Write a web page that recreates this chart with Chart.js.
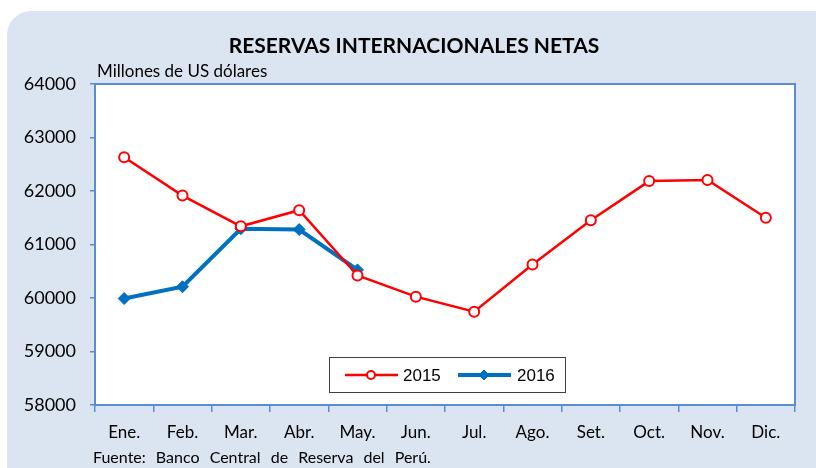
<!DOCTYPE html>
<html>
<head>
<meta charset="utf-8">
<script src="https://cdn.jsdelivr.net/npm/chart.js@4"></script>
<style>
  html, body { margin: 0; padding: 0; background: #ffffff; }
  #wrap { width: 816px; height: 468px; }
</style>
</head>
<body>
<div id="wrap"><canvas id="rinChart" width="816" height="468"></canvas></div>
<script>
const months = ["Ene.", "Feb.", "Mar.", "Abr.", "May.", "Jun.", "Jul.", "Ago.", "Set.", "Oct.", "Nov.", "Dic."];
const rin2015 = [62630, 61915, 61340, 61640, 60420, 60025, 59745, 60625, 61455, 62185, 62205, 61500];
const rin2016 = [59990, 60210, 61295, 61280, 60525];
const yTicks = [58000, 59000, 60000, 61000, 62000, 63000, 64000];

const AXIS_BLUE = "#5b8bd3";
const RED = "#ff0000";
const BLUE = "#0070c0";
const FONT = "Lato, 'Open Sans', sans-serif";

// card background, plot frame, titles, source note and the boxed legend
const decor = {
    id: "decor",
    beforeDraw(chart) {
        const ctx = chart.ctx;
        const a = chart.chartArea;
        ctx.save();
        ctx.fillStyle = "#dbe5f1";
        ctx.beginPath();
        ctx.roundRect(7, 11, 840, 480, 24);
        ctx.fill();
        ctx.fillStyle = "#ffffff";
        ctx.fillRect(a.left, a.top, a.right - a.left, a.bottom - a.top);
        ctx.restore();
    },
    afterDraw(chart) {
        const ctx = chart.ctx;
        const a = chart.chartArea;
        ctx.save();
        ctx.strokeStyle = AXIS_BLUE;
        ctx.lineWidth = 2;
        ctx.strokeRect(a.left, a.top, a.right - a.left, a.bottom - a.top);

        ctx.fillStyle = "#000000";
        ctx.textBaseline = "alphabetic";
        ctx.textAlign = "center";
        ctx.font = "bold 21px " + FONT;
        ctx.fillText("RESERVAS INTERNACIONALES NETAS", 414, 53);

        ctx.textAlign = "left";
        ctx.font = "17px " + FONT;
        ctx.fillText("Millones de US dólares", 97, 77);

        ctx.font = "16px " + FONT;
        ctx.wordSpacing = "6px";
        ctx.fillText("Fuente: Banco Central de Reserva del Perú.", 93, 463);
        ctx.wordSpacing = "0px";

        // legend box
        const lx = 329, ly = 357, lw = 236, lh = 35;
        ctx.fillStyle = "#ffffff";
        ctx.fillRect(lx, ly, lw, lh);
        ctx.strokeStyle = "#404040";
        ctx.lineWidth = 1;
        ctx.strokeRect(lx + 0.5, ly + 0.5, lw, lh);

        const cy = ly + lh / 2 + 0.5;
        chart.data.datasets.forEach((ds, i) => {
            const x0 = i === 0 ? 345 : 458;
            const tx = i === 0 ? 403 : 517;
            ctx.strokeStyle = ds.borderColor;
            ctx.lineWidth = ds.borderWidth;
            ctx.beginPath();
            ctx.moveTo(x0, cy);
            ctx.lineTo(x0 + 53, cy);
            ctx.stroke();
            ctx.fillStyle = ds.pointBackgroundColor;
            ctx.strokeStyle = ds.pointBorderColor;
            ctx.lineWidth = ds.pointBorderWidth;
            Chart.helpers.drawPoint(ctx, {
                pointStyle: ds.pointStyle,
                radius: ds.pointRadius - 1,
                borderWidth: ds.pointBorderWidth
            }, x0 + 26, cy);
            ctx.fillStyle = "#000000";
            ctx.font = "17px 'Liberation Sans', Arial, sans-serif";
            ctx.textBaseline = "middle";
            ctx.fillText(ds.label, tx, cy + 1);
        });
        ctx.restore();
    }
};

new Chart(document.getElementById("rinChart"), {
    type: "line",
    data: {
        labels: months,
        datasets: [
            {
                label: "2015",
                data: rin2015,
                borderColor: RED,
                borderWidth: 2.5,
                pointStyle: "circle",
                pointRadius: 5,
                pointBorderWidth: 2,
                pointBackgroundColor: "#ffffff",
                pointBorderColor: RED,
                tension: 0
            },
            {
                label: "2016",
                data: rin2016,
                borderColor: BLUE,
                borderWidth: 4,
                pointStyle: "rectRot",
                pointRadius: 6,
                pointBorderWidth: 1,
                pointBackgroundColor: BLUE,
                pointBorderColor: BLUE,
                tension: 0
            }
        ]
    },
    options: {
        responsive: false,
        animation: false,
        layout: { padding: { left: 0, top: 84, right: 21, bottom: 0 } },
        plugins: {
            legend: { display: false },
            title: { display: false },
            tooltip: { enabled: false }
        },
        scales: {
            x: {
                offset: true,
                afterFit(scale) { scale.height = 63; },
                border: { display: false },
                grid: {
                    offset: true,
                    drawOnChartArea: false,
                    drawTicks: true,
                    tickLength: 7,
                    color: AXIS_BLUE,
                    lineWidth: 1.5
                },
                ticks: {
                    color: "#000000",
                    padding: 10,
                    maxRotation: 0,
                    autoSkip: false,
                    font: { family: FONT, size: 17 }
                }
            },
            y: {
                min: 58000,
                max: 64000,
                afterFit(scale) { scale.width = 95; },
                afterBuildTicks(scale) { scale.ticks = yTicks.map(v => ({ value: v })); },
                border: { display: false },
                grid: {
                    drawOnChartArea: false,
                    drawTicks: true,
                    tickLength: 5,
                    color: AXIS_BLUE,
                    lineWidth: 1.5
                },
                ticks: {
                    color: "#000000",
                    padding: 14,
                    callback: (v) => String(v),
                    font: { family: FONT, size: 18 }
                }
            }
        }
    },
    plugins: [decor]
});
</script>
</body>
</html>
